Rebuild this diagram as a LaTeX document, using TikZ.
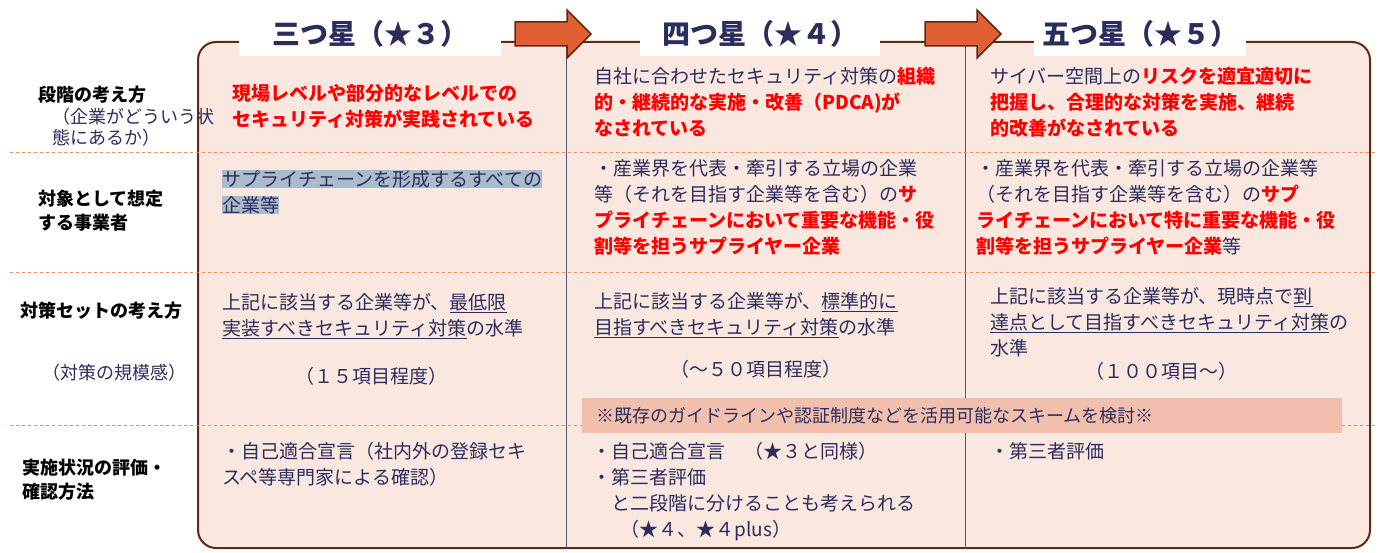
\documentclass[tikz,border=0pt]{standalone}
\usepackage{fontspec}
\setmainfont{Noto Sans CJK JP}
\definecolor{navy}{HTML}{2B2D5C}
\definecolor{boxfill}{HTML}{FAE7E0}
\definecolor{boxline}{HTML}{5E2A12}
\definecolor{arr}{HTML}{E06034}
\definecolor{dashcol}{HTML}{EE8A60}
\definecolor{hl}{HTML}{F2BFAE}
\definecolor{sel}{HTML}{A9BCCB}
\newcommand{\rb}[1]{\textcolor{red}{\bfseries #1}}
\newcommand{\sh}[1]{{\setlength{\fboxsep}{0pt}\colorbox{sel}{#1}}}
\begin{document}
\begin{tikzpicture}[x=1pt,y=-1pt,
  body/.style={anchor=north west,inner sep=0pt,align=left,text=navy,font=\fontsize{19}{26}\selectfont},
  lab/.style={anchor=north west,inner sep=0pt,align=left,text=black,font=\fontsize{18}{24}\selectfont\bfseries},
  small/.style={anchor=north west,inner sep=0pt,align=left,text=navy,font=\fontsize{18}{21}\selectfont},
  ttl/.style={fill=white,inner sep=0pt,minimum height=45,text=navy,font=\fontsize{28}{30}\selectfont\bfseries},
  barr/.style={draw=boxline,line width=1.5pt,fill=arr,line join=miter},
  sep/.style={draw=dashcol,dashed,line width=0.8pt},
  col/.style={draw=navy!80,line width=0.6pt}]
\useasboundingbox (0,0) rectangle (1385,553);
\draw[boxline,fill=boxfill,line width=2pt,rounded corners=18] (198,42) rectangle (1370,548);
\draw[col] (566,42) -- (566,548);
\draw[col] (965,42) -- (965,548);
\foreach \y in {152,272,425} \draw[sep] (10,\y) -- (1375,\y);
\node[fill=hl,minimum width=760,minimum height=35,inner sep=0pt,anchor=north west] (hlb) at (582,398) {};
\node[anchor=west,inner sep=0pt,text=navy,font=\fontsize{18}{20}\selectfont] (hlt) at (596,416) {※既存のガイドラインや認証制度などを活用可能なスキームを検討※};
% titles
\node[ttl,minimum width=262] (t3) at (370,34) {三つ星（★３）};
\node[ttl,minimum width=240] (t4) at (760,34) {四つ星（★４）};
\node[ttl,minimum width=212] (t5) at (1140,34) {五つ星（★５）};
\foreach \x in {515,925}
  \draw[barr] (\x,22) -- ++(52,0) -- ++(0,-12) -- ++(24,24) -- ++(-24,24) -- ++(0,-12) -- ++(-52,0) -- cycle;
% left labels
\node[lab] (l1) at (38,86) {段階の考え方};
\node[small] (l1b) at (52,108) {（企業がどういう状\\態にあるか）};
\node[lab] (l2) at (38,190) {対象として想定\\する事業者};
\node[lab] (l3) at (20,302) {対策セットの考え方};
\node[small] (l3b) at (42,364) {（対策の規模感）};
\node[lab] (l4) at (22,459) {実施状況の評価・\\確認方法};
% row 1
\node[body] (c11) at (232,84) {\rb{現場レベルや部分的なレベルでの}\\\rb{セキュリティ対策が実践されている}};
\node[body] (c21) at (594,67) {自社に合わせたセキュリティ対策の\rb{組織}\\\rb{的・継続的な実施・改善（PDCA)が}\\\rb{なされている}};
\node[body] (c31) at (990,67) {サイバー空間上の\rb{リスクを適宜適切に}\\\rb{把握し、合理的な対策を実施、継続}\\\rb{的改善がなされている}};
% row 2
\node[body] (c12) at (222,170) {\sh{サプライチェーンを形成するすべての}\\\sh{企業等}};
\node[body] (c22) at (594,159) {・産業界を代表・牽引する立場の企業\\等（それを目指す企業等を含む）の\rb{サ}\\\rb{プライチェーンにおいて重要な機能・役}\\\rb{割等を担うサプライヤー企業}};
\node[body] (c32) at (976,159) {・産業界を代表・牽引する立場の企業等\\（それを目指す企業等を含む）の\rb{サプ}\\\rb{ライチェーンにおいて特に重要な機能・役}\\\rb{割等を担うサプライヤー企業}等};
% row 3
\node[body] (c13) at (222,293) {上記に該当する企業等が、\underline{最低限}\\\underline{実装すべきセキュリティ対策}の水準};
\node[body] (c23) at (594,292) {上記に該当する企業等が、\underline{標準的に}\\\underline{目指すべきセキュリティ対策}の水準};
\node[body] (c33) at (990,287) {上記に該当する企業等が、現時点で\underline{到}\\\underline{達点として目指すべきセキュリティ対策}の\\水準};
\node[body] (c14) at (295,367) {（１５項目程度）};
\node[body] (c24) at (670,360) {（～５０項目程度）};
\node[body] (c34) at (1085,362) {（１００項目～）};
% row 4
\node[body] (c15) at (222,442) {・自己適合宣言（社内外の登録セキ\\スペ等専門家による確認）};
\node[body] (c25) at (592,442) {・自己適合宣言\quad（★３と同様）\\・第三者評価\\\hspace{1em}と二段階に分けることも考えられる\\\hspace{1.5em}（★４、★４plus）};
\node[body] (c35) at (990,442) {・第三者評価};
\end{tikzpicture}
\end{document}
